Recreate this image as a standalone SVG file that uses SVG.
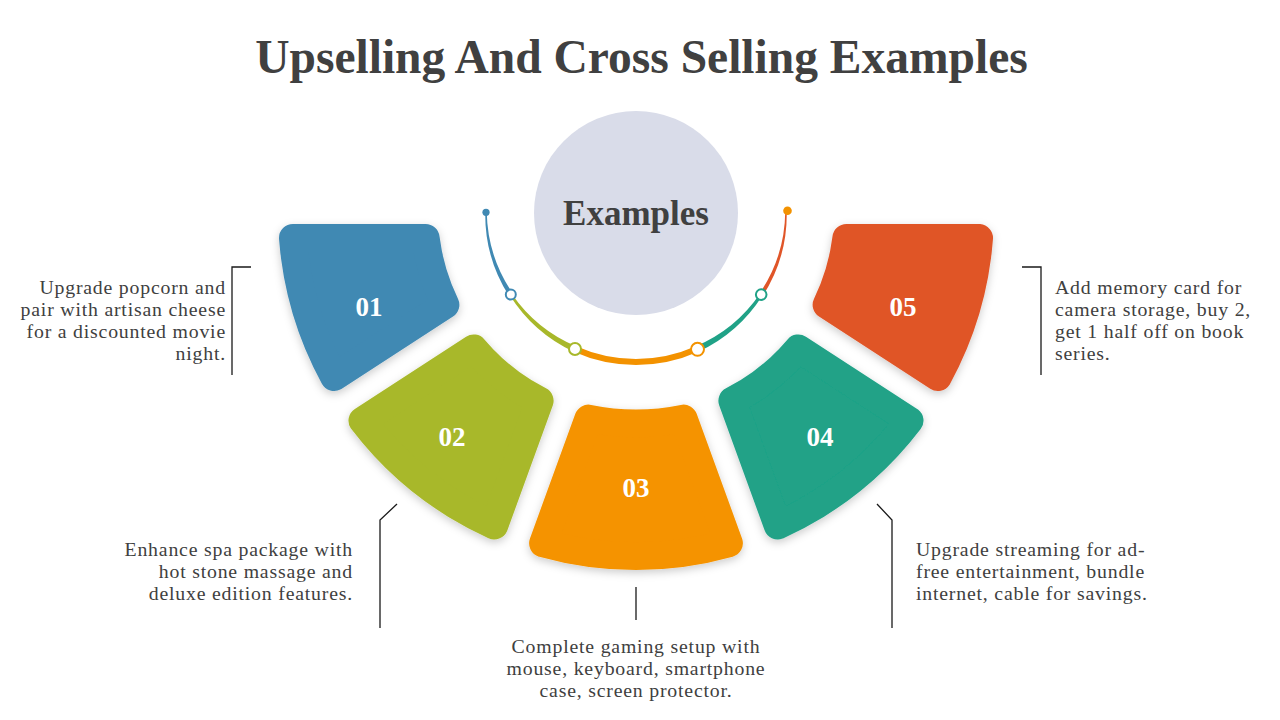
<svg xmlns="http://www.w3.org/2000/svg" width="1280" height="720" viewBox="0 0 1280 720">
<defs>
<filter id="sh" x="-20%" y="-20%" width="140%" height="140%">
<feDropShadow dx="0" dy="3" stdDeviation="4" flood-color="#000" flood-opacity="0.2"/>
</filter>
<style>
.title{font-family:"Liberation Serif","Times New Roman",serif;font-weight:bold;font-size:47.5px;fill:#404040}
.ex{font-family:"Liberation Serif","Times New Roman",serif;font-weight:bold;font-size:35px;fill:#404040;text-anchor:middle}
.body{font-family:"Liberation Serif","Times New Roman",serif;font-size:19.8px;letter-spacing:0.8px;fill:#404040}
.num{font-family:"Liberation Serif","Times New Roman",serif;font-weight:bold;font-size:27px;fill:#ffffff;text-anchor:middle}
.seg{stroke-width:28;stroke-linejoin:round;filter:url(#sh)}
.lead{stroke:#1a1a1a;stroke-width:1.3;fill:none}
.node{fill:#ffffff;stroke-width:2}
</style>
</defs>
<rect width="1280" height="720" fill="#ffffff"/>
<text class="title" x="641.5" y="73" text-anchor="middle">Upselling And Cross Selling Examples</text>

<g id="center">
<circle cx="636" cy="213" r="102" fill="#D9DCE9"/>
<text class="ex" x="636" y="225">Examples</text>
</g>

<g id="connectors">
<path d="M485.25 212 A151.5 151.5 0 0 0 508.9 295.81 L512.66 293.34 A148.5 148.5 0 0 1 486.75 212 Z" fill="#4089B3"/>
<path d="M509.74 295.26 A152 152 0 0 0 573.77 351.77 L576.22 346.28 A148 148 0 0 1 511.82 293.89 Z" fill="#A8B82A"/>
<path d="M574.99 349.03 A150 150 0 0 0 697.01 349.03" fill="none" stroke="#F39200" stroke-width="6"/>
<path d="M698.23 351.77 A152.25 152.25 0 0 0 762.47 295.4 L759.97 293.75 A147.75 147.75 0 0 1 695.78 346.28 Z" fill="#20A287"/>
<path d="M762.89 295.68 A151.4 151.4 0 0 0 786.75 212 L785.25 212 A148.6 148.6 0 0 1 759.55 293.47 Z" fill="#E05528"/>
<circle cx="486" cy="212.3" r="3.6" fill="#4089B3"/>
<circle cx="787.5" cy="210.8" r="4.3" fill="#F39200"/>
<circle class="node" cx="510.8" cy="294.6" r="5" stroke="#4089B3"/>
<circle class="node" cx="575" cy="349" r="6" stroke="#A8B82A"/>
<circle class="node" cx="697.5" cy="349.3" r="6.5" stroke="#F39200"/>
<circle class="node" cx="761.2" cy="294.6" r="5.3" stroke="#20A287"/>
<path class="lead" d="M251 267 H232 V375"/>
<path class="lead" d="M397 504 L380 520 V628"/>
<path class="lead" d="M636 587 V620"/>
<path class="lead" d="M877 504 L892 520 V628"/>
<path class="lead" d="M1022 267 H1041 V375"/>
</g>

<g id="seg01">
<path class="seg" d="M425.6 238 L292.98 238 A344 344 0 0 0 334.16 377.01 L445.38 304.78 A212 212 0 0 1 425.6 238 Z" fill="#4089B3" stroke="#4089B3"/>
<text class="num" x="369" y="316">01</text>
</g>
<g id="seg02">
<path class="seg" d="M473.7 348.4 L362.48 420.63 A344 344 0 0 0 494.25 525.45 L539.61 400.82 A212 212 0 0 1 473.7 348.4 Z" fill="#A8B82A" stroke="#A8B82A"/>
<text class="num" x="452" y="446">02</text>
</g>
<g id="seg03">
<path class="seg" d="M588.47 418.6 L543.11 543.23 A344 344 0 0 0 728.89 543.23 L683.53 418.6 A240 240 0 0 1 588.47 418.6 Z" fill="#F59300" stroke="#F59300"/>
<text class="num" x="636" y="497">03</text>
</g>
<g id="seg04">
<path class="seg" d="M732.39 400.82 L777.75 525.45 A344 344 0 0 0 909.52 420.63 L798.3 348.4 A212 212 0 0 1 732.39 400.82 Z" fill="#20A287" stroke="#20A287"/>
<text class="num" x="820" y="446">04</text>
</g>
<g id="seg05">
<path class="seg" d="M826.62 304.78 L937.84 377.01 A344 344 0 0 0 979.02 238 L846.4 238 A212 212 0 0 1 826.62 304.78 Z" fill="#E05528" stroke="#E05528"/>
<text class="num" x="903" y="316">05</text>
</g>

<g id="text01">
<text class="body" text-anchor="end"><tspan x="226" y="294">Upgrade popcorn and</tspan><tspan x="226" y="316">pair with artisan cheese</tspan><tspan x="226" y="338">for a discounted movie</tspan><tspan x="226" y="360">night.</tspan></text>
</g>
<g id="text02">
<text class="body" text-anchor="end"><tspan x="353" y="556">Enhance spa package with</tspan><tspan x="353" y="578">hot stone massage and</tspan><tspan x="353" y="600">deluxe edition features.</tspan></text>
</g>
<g id="text03">
<text class="body" text-anchor="middle"><tspan x="636" y="653">Complete gaming setup with</tspan><tspan x="636" y="675">mouse, keyboard, smartphone</tspan><tspan x="636" y="697">case, screen protector.</tspan></text>
</g>
<g id="text04">
<text class="body"><tspan x="916" y="556">Upgrade streaming for ad-</tspan><tspan x="916" y="578">free entertainment, bundle</tspan><tspan x="916" y="600">internet, cable for savings.</tspan></text>
</g>
<g id="text05">
<text class="body"><tspan x="1055" y="294">Add memory card for</tspan><tspan x="1055" y="316">camera storage, buy 2,</tspan><tspan x="1055" y="338">get 1 half off on book</tspan><tspan x="1055" y="360">series.</tspan></text>
</g>
</svg>
